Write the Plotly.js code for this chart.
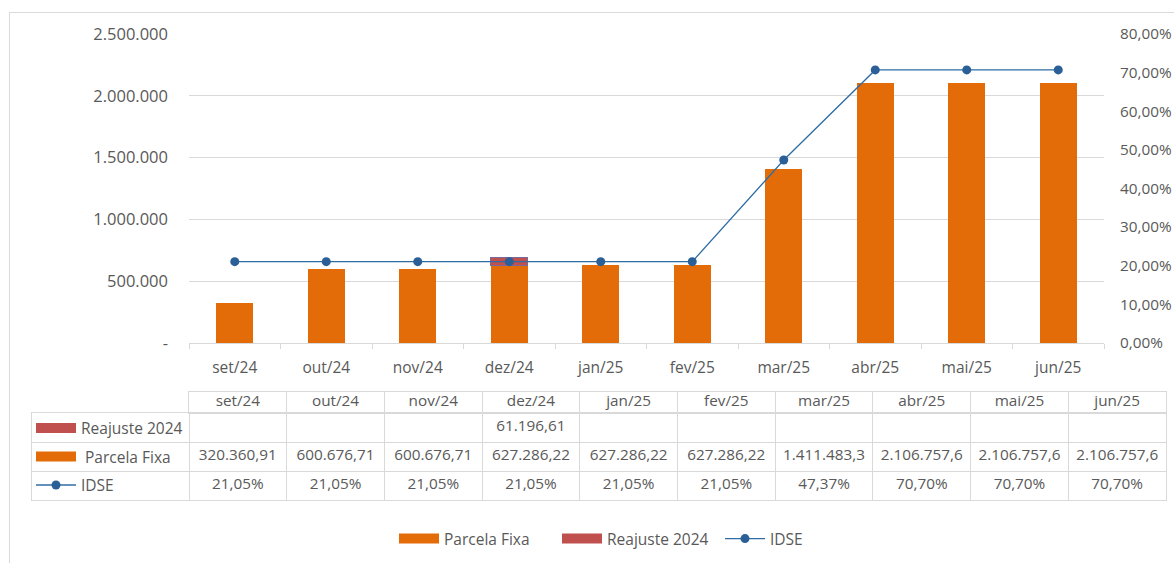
<!DOCTYPE html>
<html>
<head>
<meta charset="utf-8">
<script src="https://cdn.plot.ly/plotly-3.0.1.min.js"></script>
<style>
html,body{margin:0;padding:0;background:#fff;overflow:hidden;}
#frame{position:absolute;left:9px;top:12px;width:2000px;height:2000px;border:1px solid #d9d9d9;box-sizing:border-box;}
#chart{position:absolute;left:0;top:0;width:1174px;height:563px;}
</style>
</head>
<body>
<div id="frame"></div>
<div id="chart"></div>
<script>
// ---- data ----
const months = ['set/24','out/24','nov/24','dez/24','jan/25','fev/25','mar/25','abr/25','mai/25','jun/25'];
const parcelaFixa = [320360.91, 600676.71, 600676.71, 627286.22, 627286.22, 627286.22, 1411483.30, 2106757.60, 2106757.60, 2106757.60];
const reajuste2024 = [null, null, null, 61196.61, null, null, null, null, null, null];
const idse = [0.2105, 0.2105, 0.2105, 0.2105, 0.2105, 0.2105, 0.4737, 0.7070, 0.7070, 0.7070];
const leftTickVals = [0, 500000, 1000000, 1500000, 2000000, 2500000];
const leftTickText = ['-', '500.000', '1.000.000', '1.500.000', '2.000.000', '2.500.000'];
const seriesNames = {parcela: 'Parcela Fixa', reajuste: 'Reajuste 2024', idse: 'IDSE'};

// ---- style ----
const W = 1174, H = 563;
const FONT = 'Open Sans, Noto Sans, sans-serif';
const TXT = '#595959';
const GRID = '#d9d9d9';
const ORANGE = '#e36c09';
const RED = '#c0504d';
const BLUE_LINE = '#2e6da4';
const BLUE_MK = '#2a5f97';
const fx = p => p / W;
const fy = p => 1 - p / H;

function fmtMoney(v) {
  if (v === null || v === undefined) return '';
  const dec = v >= 1e6 ? 1 : 2;
  const s = v.toFixed(dec).split('.');
  return s[0].replace(/\B(?=(\d{3})+(?!\d))/g, '.') + ',' + s[1];
}
function fmtPct(v) { return (v * 100).toFixed(2).replace('.', ',') + '%'; }

const nCols = months.length;
const colIdx = months.map((m, i) => i + 0.5);
const labelCols = 157 / 97.7; // width of label column in month-column units

const traces = [];
// bars
traces.push({type: 'bar', x: months, y: parcelaFixa, name: seriesNames.parcela, marker: {color: ORANGE}, showlegend: false, hoverinfo: 'skip'});
traces.push({type: 'bar', x: months, y: reajuste2024, name: seriesNames.reajuste, marker: {color: RED, line: {color: '#7a6a9a', width: 1}}, showlegend: false, hoverinfo: 'skip'});
// legend proxies (bottom legend)
traces.push({type: 'scatter', mode: 'lines', x: [null], y: [null], name: seriesNames.parcela, line: {color: ORANGE, width: 10}, legend: 'legend', hoverinfo: 'skip'});
traces.push({type: 'scatter', mode: 'lines', x: [null], y: [null], name: seriesNames.reajuste, line: {color: RED, width: 10}, legend: 'legend', hoverinfo: 'skip'});
// IDSE line
traces.push({type: 'scatter', mode: 'lines+markers', x: months, y: idse, yaxis: 'y2', name: seriesNames.idse,
  line: {color: BLUE_LINE, width: 1.3}, marker: {color: BLUE_MK, size: 9}, legend: 'legend', hoverinfo: 'skip'});
// table legend proxies (legend2)
traces.push({type: 'scatter', mode: 'lines', x: [null], y: [null], name: seriesNames.reajuste, line: {color: RED, width: 10}, legend: 'legend2', legendgroup: 'g1', hoverinfo: 'skip'});
traces.push({type: 'scatter', mode: 'lines', x: [null], y: [null], name: '\u00a0' + seriesNames.parcela, line: {color: ORANGE, width: 10}, legend: 'legend2', legendgroup: 'g2', hoverinfo: 'skip'});
traces.push({type: 'scatter', mode: 'lines+markers', x: [null], y: [null], name: seriesNames.idse, line: {color: BLUE_LINE, width: 1.3}, marker: {color: BLUE_MK, size: 9}, legend: 'legend2', legendgroup: 'g3', hoverinfo: 'skip'});

// table text
const tfont = {family: FONT, size: 15.3, color: TXT};
traces.push({type: 'scatter', mode: 'text', xaxis: 'x4', yaxis: 'y4', x: colIdx, y: months.map(() => 0.5), text: months, textfont: tfont, showlegend: false, hoverinfo: 'skip', cliponaxis: false});
traces.push({type: 'scatter', mode: 'text', xaxis: 'x3', yaxis: 'y3', x: colIdx, y: months.map(() => 2.5), text: reajuste2024.map(fmtMoney), textfont: tfont, showlegend: false, hoverinfo: 'skip', cliponaxis: false});
traces.push({type: 'scatter', mode: 'text', xaxis: 'x3', yaxis: 'y3', x: colIdx, y: months.map(() => 1.5), text: parcelaFixa.map(fmtMoney), textfont: tfont, showlegend: false, hoverinfo: 'skip', cliponaxis: false});
traces.push({type: 'scatter', mode: 'text', xaxis: 'x3', yaxis: 'y3', x: colIdx, y: months.map(() => 0.5), text: idse.map(fmtPct), textfont: tfont, showlegend: false, hoverinfo: 'skip', cliponaxis: false});

const layout = {
  width: W, height: H,
  margin: {l: 0, r: 0, t: 0, b: 0, autoexpand: false},
  paper_bgcolor: 'rgba(0,0,0,0)', plot_bgcolor: 'rgba(0,0,0,0)',
  font: {family: FONT, size: 15, color: TXT},
  separators: ',.',
  barmode: 'stack', bargap: 0.6,
  xaxis: {domain: [fx(189), fx(1104)], type: 'category', categoryorder: 'array', categoryarray: months,
    range: [-0.5, nCols - 0.5], tickson: 'boundaries', ticks: 'outside', ticklen: 5, tickcolor: GRID,
    showline: true, linecolor: GRID, linewidth: 1, showgrid: false, zeroline: false, automargin: false,
    ticklabelstandoff: 10, tickfont: {size: 15.5, color: TXT}, fixedrange: true},
  yaxis: {domain: [fy(343), fy(34)], range: [0, 2500000], tickmode: 'array', tickvals: leftTickVals, ticktext: leftTickText,
    showgrid: true, gridcolor: GRID, zeroline: false, showline: false, ticks: '', ticklabelstandoff: 20,
    automargin: false, tickfont: {size: 16.5, color: TXT}, fixedrange: true},
  yaxis2: {overlaying: 'y', side: 'right', range: [0, 0.8], dtick: 0.1, tick0: 0, tickformat: '.2%',
    showgrid: false, zeroline: false, showline: false, ticks: '', ticklabelstandoff: 15, automargin: false,
    tickfont: {size: 15.3, color: TXT}, fixedrange: true},
  // table body
  xaxis3: {domain: [fx(32), fx(1166)], anchor: 'y3', range: [-labelCols, nCols], tickmode: 'array', tickvals: months.map((m, i) => i),
    showgrid: true, gridcolor: GRID, gridwidth: 1, zeroline: false, showline: true, mirror: true, linecolor: GRID, linewidth: 1,
    showticklabels: false, ticks: '', fixedrange: true},
  yaxis3: {domain: [fy(500), fy(413)], anchor: 'x3', range: [0, 3], tickmode: 'array', tickvals: [1, 2],
    showgrid: true, gridcolor: GRID, zeroline: false, showline: true, mirror: true, linecolor: GRID, linewidth: 1,
    showticklabels: false, ticks: '', fixedrange: true},
  // table header
  xaxis4: {domain: [fx(189), fx(1166)], anchor: 'y4', range: [0, nCols], tickmode: 'array', tickvals: months.map((m, i) => i).slice(1),
    showgrid: true, gridcolor: GRID, zeroline: false, showline: true, mirror: true, linecolor: GRID, linewidth: 1,
    showticklabels: false, ticks: '', fixedrange: true},
  yaxis4: {domain: [fy(413), fy(392)], anchor: 'x4', range: [0, 1], tickmode: 'array', tickvals: [],
    showgrid: false, zeroline: false, showline: true, mirror: true, linecolor: GRID, linewidth: 1,
    showticklabels: false, ticks: '', fixedrange: true},
  legend: {orientation: 'h', xref: 'paper', yref: 'paper', x: fx(394), xanchor: 'left', y: 24 / H, yanchor: 'middle',
    bgcolor: 'rgba(0,0,0,0)', font: {size: 15.5, color: TXT}, itemwidth: 40, entrywidth: 108, entrywidthmode: 'pixels', traceorder: 'normal'},
  legend2: {orientation: 'v', xref: 'paper', yref: 'paper', x: fx(31), xanchor: 'left', y: fy(411.5), yanchor: 'top',
    bgcolor: 'rgba(0,0,0,0)', font: {size: 15.5, color: TXT}, itemwidth: 40, tracegroupgap: 5.3, traceorder: 'grouped'},
  showlegend: true
};

Plotly.newPlot('chart', traces, layout, {staticPlot: true, displayModeBar: false});
</script>
</body>
</html>
